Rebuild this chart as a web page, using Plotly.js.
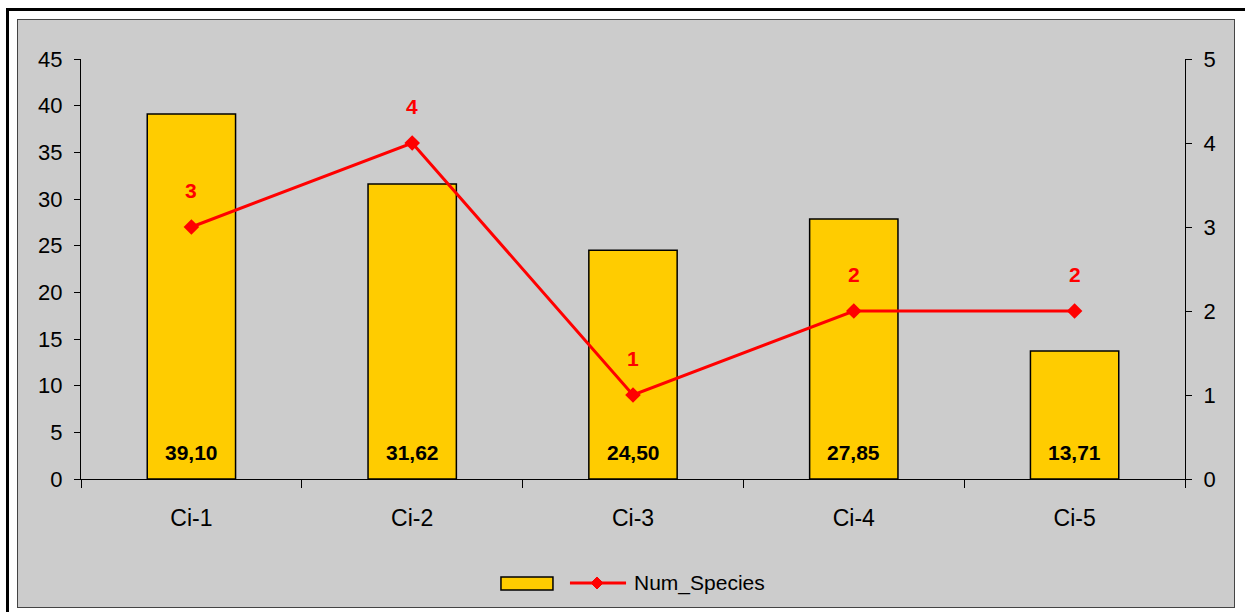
<!DOCTYPE html>
<html>
<head>
<meta charset="utf-8">
<script src="https://cdn.plot.ly/plotly-3.0.1.min.js"></script>
<style>
  html, body { margin: 0; padding: 0; background: #ffffff; width: 1245px; height: 612px; overflow: hidden; position: relative; }
  #frame { position: absolute; left: 6px; top: 8px; width: 1400px; height: 800px; border: 3px solid #000; box-sizing: border-box; }
  #wrap { position: absolute; left: 17px; top: 19px; width: 1218px; height: 589px; border: 1px solid #444; box-sizing: border-box; background: #CCCCCC; }
  #chart { position: absolute; left: 0; top: 0; width: 1216px; height: 587px; }
</style>
</head>
<body>
<div id="frame"></div>
<div id="wrap"><div id="chart"></div></div>
<script>
// ---- data ----
const categories = ['Ci-1', 'Ci-2', 'Ci-3', 'Ci-4', 'Ci-5'];
const barValues = [39.10, 31.62, 24.50, 27.85, 13.71];
const numSpecies = [3, 4, 1, 2, 2];
const lineName = 'Num_Species';
const leftTicks = [0, 5, 10, 15, 20, 25, 30, 35, 40, 45];
const rightTicks = [0, 1, 2, 3, 4, 5];

const FONT = 'Arial, "Liberation Sans", sans-serif';

const barTrace = {
  type: 'bar', x: categories, y: barValues, name: '',
  xaxis: 'x', yaxis: 'y',
  marker: { color: '#FFCC00', line: { color: '#000000', width: 1.5 } },
  width: 0.4, showlegend: false, hoverinfo: 'x+y'
};
const lineTrace = {
  type: 'scatter', mode: 'lines+markers', x: categories, y: numSpecies, name: lineName,
  xaxis: 'x', yaxis: 'y2',
  line: { color: '#FF0000', width: 3 },
  marker: { symbol: 'diamond', color: '#FF0000', size: 12 },
  showlegend: false
};

const annotations = [];
categories.forEach((c, i) => {
  annotations.push({
    x: c, y: 0, xref: 'x', yref: 'y', yanchor: 'middle', yshift: 27,
    text: '<b>' + barValues[i].toFixed(2).replace('.', ',') + '</b>', showarrow: false,
    font: { family: FONT, size: 21, color: '#000000' }
  });
  annotations.push({
    x: c, y: numSpecies[i], xref: 'x', yref: 'y2', yanchor: 'middle', yshift: 37,
    text: '<b>' + numSpecies[i] + '</b>', showarrow: false,
    font: { family: FONT, size: 21, color: '#FF0000' }
  });
});
// legend text
annotations.push({
  x: 0.4991, y: -0.2476, xref: 'paper', yref: 'paper', xanchor: 'left', yanchor: 'middle',
  text: lineName, showarrow: false, font: { family: FONT, size: 21, color: '#000000' }
});

const shapes = [
  { type: 'rect', xref: 'paper', yref: 'paper', x0: 0.3804, x1: 0.4275, y0: -0.2643, y1: -0.2333,
    fillcolor: '#FFCC00', line: { color: '#000000', width: 1.5 } },
  { type: 'line', xref: 'paper', yref: 'paper', x0: 0.4429, x1: 0.4937, y0: -0.2476, y1: -0.2476,
    line: { color: '#FF0000', width: 3 } },
  { type: 'path', xref: 'paper', yref: 'paper', xsizemode: 'pixel', ysizemode: 'pixel',
    xanchor: 0.4674, yanchor: -0.2476, path: 'M -6 0 L 0 6 L 6 0 L 0 -6 Z',
    fillcolor: '#FF0000', line: { color: '#FF0000', width: 1 } }
];

const tickFont = { family: FONT, size: 22, color: '#000000' };

const layout = {
  width: 1216, height: 587,
  margin: { l: 63, r: 49, t: 39, b: 128 },
  paper_bgcolor: '#CCCCCC', plot_bgcolor: '#CCCCCC',
  showlegend: false,
  bargap: 0.6,
  xaxis: {
    type: 'category', categoryorder: 'array', categoryarray: categories, range: [-0.5, 4.5],
    showline: true, linecolor: '#000000', linewidth: 1,
    ticks: 'outside', tickson: 'boundaries', ticklen: 8, tickcolor: '#000000', tickwidth: 1,
    tickfont: { family: FONT, size: 23, color: '#000000' }, ticklabelstandoff: 18,
    showgrid: false, zeroline: false, fixedrange: true
  },
  xaxis2: {
    overlaying: 'x', anchor: 'y', type: 'linear', range: [-0.5, 4.5], tick0: -0.5, dtick: 1,
    ticks: 'inside', ticklen: 8, tickcolor: '#000000', tickwidth: 1,
    showticklabels: false, showgrid: false, zeroline: false, showline: false
  },
  yaxis: {
    range: [0, 45], tickvals: leftTicks, showline: true, linecolor: '#000000', linewidth: 1,
    ticks: 'outside', ticklen: 6, tickcolor: '#000000', tickwidth: 1,
    tickfont: tickFont, ticklabelstandoff: 7,
    showgrid: false, zeroline: false, fixedrange: true
  },
  yaxis2: {
    overlaying: 'y', side: 'right', anchor: 'x', range: [0, 5], tickvals: rightTicks,
    showline: true, linecolor: '#000000', linewidth: 1,
    ticks: 'outside', ticklen: 6, tickcolor: '#000000', tickwidth: 1,
    tickfont: tickFont, ticklabelstandoff: 7,
    showgrid: false, zeroline: false, fixedrange: true
  },
  yaxis3: {
    overlaying: 'y', anchor: 'x', range: [0, 45], tickvals: leftTicks,
    ticks: 'inside', ticklen: 6, tickcolor: '#000000', tickwidth: 1,
    showticklabels: false, showgrid: false, zeroline: false, showline: false
  },
  yaxis4: {
    overlaying: 'y', side: 'right', anchor: 'x', range: [0, 5], tickvals: rightTicks,
    ticks: 'inside', ticklen: 6, tickcolor: '#000000', tickwidth: 1,
    showticklabels: false, showgrid: false, zeroline: false, showline: false
  },
  annotations: annotations,
  shapes: shapes
};

Plotly.newPlot('chart', [barTrace, lineTrace], layout, { displayModeBar: false, staticPlot: true });
</script>
</body>
</html>
